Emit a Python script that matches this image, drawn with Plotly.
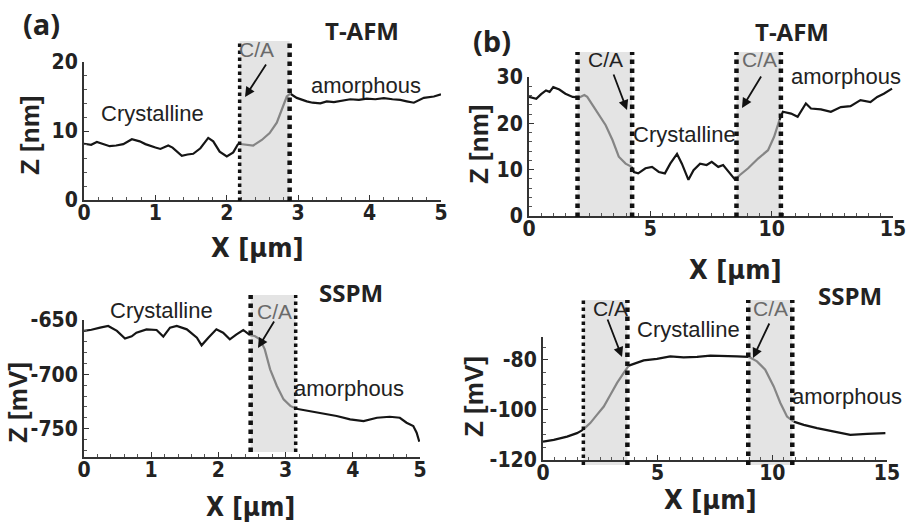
import plotly.graph_objects as go

W, H = 907, 524

# ---------------- data ----------------
a_top_x = [0, 0.1, 0.18, 0.27, 0.36, 0.45, 0.55, 0.67, 0.78, 0.86, 0.93, 1.0, 1.07, 1.18, 1.24,
           1.3, 1.37, 1.45, 1.53, 1.63, 1.74, 1.81, 1.9, 2.0, 2.09, 2.16, 2.26, 2.37, 2.49, 2.6,
           2.7, 2.77, 2.84, 2.89, 2.98, 3.12, 3.2, 3.31, 3.4, 3.5, 3.62, 3.73, 3.85, 3.96, 4.08,
           4.2, 4.32, 4.43, 4.52, 4.62, 4.76, 4.84, 4.9, 5.0]
a_top_z = [8.15, 8.0, 8.4, 8.1, 7.8, 7.9, 8.1, 8.8, 8.5, 8.1, 7.8, 7.6, 7.4, 7.9, 7.6,
           7.0, 6.4, 6.6, 6.7, 7.5, 9.0, 8.5, 7.0, 6.3, 6.9, 8.15, 8.0, 7.9, 8.7, 9.7,
           11.2, 13.1, 15.0, 15.4, 14.8, 14.3, 14.1, 14.0, 14.3, 14.2, 14.4, 14.6, 14.5, 14.7, 14.6,
           14.75, 14.6, 14.5, 14.3, 14.1, 14.8, 14.9, 15.0, 15.3]

b_top_x = [0, 0.3, 0.5, 0.7, 0.85, 1.0, 1.25, 1.5, 1.8, 2.07, 2.28, 2.4, 2.75, 3.16, 3.44, 3.7,
           3.98, 4.23, 4.32, 4.5, 4.8, 5.07, 5.35, 5.6, 5.82, 6.1, 6.3, 6.57, 6.78, 7.05, 7.32,
           7.53, 7.8, 8.0, 8.28, 8.5, 8.68, 9.03, 9.44, 9.85, 10.1, 10.32, 10.46, 10.8, 11.07,
           11.41, 11.62, 12.03, 12.44, 12.85, 13.25, 13.66, 14.07, 14.35, 14.62, 14.96]
b_top_z = [25.7, 25.3, 26.3, 27.1, 26.8, 27.8, 27.3, 26.4, 25.7, 25.6, 26.1, 25.7, 22.8, 19.6,
           16.4, 12.8, 11.3, 10.6, 9.5, 9.2, 10.3, 10.6, 9.5, 9.2, 11.3, 13.4, 11.3, 7.8, 9.9,
           11.3, 11.0, 11.7, 10.6, 11.0, 9.2, 7.8, 8.8, 10.3, 12.4, 14.2, 17.1, 20.7, 22.5, 22.1,
           21.4, 24.3, 23.2, 23.0, 22.5, 23.5, 23.7, 25.0, 24.6, 25.7, 26.4, 27.5]

a_bot_x = [0, 0.11, 0.24, 0.36, 0.49, 0.61, 0.71, 0.78, 0.93, 1.08, 1.18, 1.28, 1.38, 1.53, 1.68,
           1.75, 1.85, 1.97, 2.07, 2.17, 2.27, 2.37, 2.47, 2.54, 2.62, 2.69, 2.77, 2.87, 2.97,
           3.07, 3.16, 3.36, 3.56, 3.76, 3.96, 4.16, 4.36, 4.55, 4.7, 4.8, 4.9, 4.95, 4.99]
a_bot_z = [-660, -659, -657, -655.5, -660, -667, -665, -661.7, -658.6, -659.2, -665.3, -657,
           -655.5, -658.6, -666.3, -673.3, -666.3, -658.6, -661.7, -667.8, -663.2, -659.2, -664,
           -664.7, -667.8, -677, -695.4, -710.7, -723, -729, -731.6, -733.7, -735.9, -738.3,
           -741.4, -743, -739.9, -739, -739.9, -744.5, -747.5, -753.7, -762]

b_bot_x = [0, 0.47, 1.05, 1.48, 1.74, 2.06, 2.35, 2.65, 2.94, 3.23, 3.52, 3.74, 4.1, 4.39, 4.97,
           5.55, 6.13, 6.72, 7.3, 7.88, 8.46, 8.97, 9.33, 9.69, 10.06, 10.35, 10.64, 10.93,
           11.37, 11.95, 12.67, 13.4, 14.13, 14.93]
b_bot_z = [-112.7, -112, -110.7, -109.3, -108, -105.3, -102, -98.7, -94, -89.3, -85.3, -82.4,
           -81.3, -80.3, -79.7, -78.7, -79.1, -78.9, -78.4, -78.4, -78.7, -78.9, -80.7, -84,
           -90.7, -97.3, -102.7, -104.7, -106, -107.3, -108.7, -110, -109.6, -109.3]

# C/A transition regions (data units, x)
a_top_regions = [[2.18, 2.88]]
b_top_regions = [[2.0, 4.25], [8.55, 10.38]]
a_bot_regions = [[2.48, 3.15]]
b_bot_regions = [[1.76, 3.68], [8.95, 10.87]]

# axis ticks
a_top_xticks = [0, 1, 2, 3, 4, 5]
a_top_yticks = [0, 10, 20]
b_top_xticks = [0, 5, 10, 15]
b_top_yticks = [0, 10, 20, 30]
a_bot_xticks = [0, 1, 2, 3, 4, 5]
a_bot_yticks = [-650, -700, -750]
b_bot_xticks = [0, 5, 10, 15]
b_bot_yticks = [-80, -100, -120]

# ---------------- helpers ----------------
def px(x):
    return x / W

def py(y):
    return 1 - y / H

BLACK = "#151515"
GRAY = "#858585"

fig = go.Figure()


def add_profile(xs, zs, regions, xa, ya):
    def inside(v):
        return any(r[0] <= v <= r[1] for r in regions)
    segs = {BLACK: ([], []), GRAY: ([], [])}
    cur_col = None
    for i in range(len(xs) - 1):
        mid = 0.5 * (xs[i] + xs[i + 1])
        col = GRAY if inside(mid) else BLACK
        sx, sy = segs[col]
        if col != cur_col:
            if sx:
                sx.append(None)
                sy.append(None)
            sx.extend([xs[i], xs[i + 1]])
            sy.extend([zs[i], zs[i + 1]])
        else:
            sx.append(xs[i + 1])
            sy.append(zs[i + 1])
        cur_col = col
    for col, (sx, sy) in segs.items():
        if sx:
            fig.add_trace(go.Scatter(x=sx, y=sy, mode="lines", xaxis=xa, yaxis=ya,
                                     line=dict(color=col, width=2.2), showlegend=False,
                                     hoverinfo="skip", cliponaxis=False))


add_profile(a_top_x, a_top_z, a_top_regions, "x", "y")
add_profile(b_top_x, b_top_z, b_top_regions, "x2", "y2")
add_profile(a_bot_x, a_bot_z, a_bot_regions, "x3", "y3")
add_profile(b_bot_x, b_bot_z, b_bot_regions, "x4", "y4")

# ---------------- shaded regions & dotted boundaries ----------------
shapes = []


def add_regions(regions, xref, ytop, ybot, widths):
    k = 0
    for r in regions:
        shapes.append(dict(type="rect", xref=xref, yref="paper", x0=r[0], x1=r[1],
                           y0=py(ybot), y1=py(ytop), fillcolor="#e4e4e4",
                           line=dict(width=0), layer="below"))
        for v in r:
            shapes.append(dict(type="line", xref=xref, yref="paper", x0=v, x1=v,
                               y0=py(ybot), y1=py(ytop),
                               line=dict(color="#111111", width=widths[k], dash="dot")))
            k += 1


add_regions(a_top_regions, "x", 41, 201, [3.5, 4.5])
add_regions(b_top_regions, "x2", 52, 217, [4.5, 4.5, 4.5, 4.5])
add_regions(a_bot_regions, "x3", 295, 452, [4.5, 3.5])
add_regions(b_bot_regions, "x4", 300, 465, [3.5, 4.5, 4.5, 4.5])

# ---------------- text ----------------
ann = []
COND = "DejaVu Sans Condensed, Liberation Sans Narrow, Arial Narrow, Liberation Sans, sans-serif"


def text(t, x, y, size, color="#222222", family="Liberation Sans", weight="normal", angle=0):
    ann.append(dict(text=t, x=px(x), y=py(y), xref="paper", yref="paper", showarrow=False,
                    xanchor="center", yanchor="middle", textangle=angle,
                    font=dict(size=size, color=color, family=family, weight=weight)))


def arrow(tail, head):
    ann.append(dict(text="", x=px(head[0]), y=py(head[1]), xref="paper", yref="paper",
                    ax=tail[0] - head[0], ay=tail[1] - head[1], axref="pixel", ayref="pixel",
                    showarrow=True, arrowhead=2, arrowsize=1.1, arrowwidth=1.8,
                    arrowcolor="#111111"))


text("(a)", 41, 24, 29, "#222222", "Open Sans", "bold")
text("(b)", 492, 40, 29, "#222222", "Open Sans", "bold")
text("T-AFM", 362, 30, 24, "#222222", "Open Sans", "bold")
text("T-AFM", 792, 31, 24, "#222222", "Open Sans", "bold")
text("SSPM", 351, 292, 24, "#222222", "Open Sans", "bold")
text("SSPM", 850, 295, 24, "#222222", "Open Sans", "bold")

text("Crystalline", 152, 113, 22)
text("amorphous", 366, 85, 22)
text("Crystalline", 684, 134, 22)
text("amorphous", 846, 76, 22)
text("Crystalline", 161, 310, 22)
text("amorphous", 349, 388, 22)
text("Crystalline", 688, 329, 22)
text("amorphous", 847, 396, 22)

text("C/A", 256, 49, 21, "#6a6a6a")
arrow((267, 63), (245, 97))
text("C/A", 605, 60, 21, "#222222")
arrow((613, 73), (627, 110))
text("C/A", 759, 60, 21, "#6a6a6a")
arrow((762, 75), (742, 108))
text("C/A", 274, 311, 21, "#6a6a6a")
arrow((275, 320), (258, 348))
text("C/A", 610, 308, 21, "#222222")
arrow((607, 318), (622, 357))
text("C/A", 770, 308, 21, "#6a6a6a")
arrow((770, 322), (753, 358))

# axis titles
text("X [μm]", 257, 247, 27, "#222222", COND, "bold")
text("X [μm]", 735, 269, 27, "#222222", COND, "bold")
text("X [μm]", 250, 507, 26, "#222222", COND, "bold")
text("X [μm]", 710, 499, 27, "#222222", COND, "bold")
text("Z [nm]", 30, 136, 26, "#222222", "Liberation Sans", "bold", -90)
text("Z [nm]", 479, 145, 26, "#222222", "Liberation Sans", "bold", -90)
text("Z [mV]", 18, 403, 26, "#222222", "Liberation Sans", "bold", -90)
text("Z [mV]", 474, 397, 26, "#222222", "Liberation Sans", "bold", -90)

# ---------------- axes ----------------
tickfont = dict(family=COND, size=21, color="#222222", weight="bold")


def axis(dom, rng, ticks, minor, anchor, standoff):
    return dict(domain=dom, range=rng, tickvals=ticks, ticktext=[str(t) for t in ticks],
                ticks="inside", ticklen=5, automargin=False, ticklabelstandoff=standoff,
                ticklabeloverflow="allow",
                tickwidth=1.3, tickcolor="#333", showline=True, linecolor="#333",
                linewidth=1.8, showgrid=False, zeroline=False, anchor=anchor,
                tickfont=tickfont, fixedrange=True,
                minor=dict(dtick=minor, ticks="inside", ticklen=3, tickcolor="#555",
                           tickwidth=1, showgrid=False))


fig.update_layout(
    width=W, height=H, margin=dict(l=0, r=0, t=0, b=0, autoexpand=False),
    paper_bgcolor="white", plot_bgcolor="rgba(0,0,0,0)",
    xaxis=axis([px(84), px(441)], [0, 5], a_top_xticks, 0.2, "y", -7),
    yaxis=axis([py(200), py(62)], [0, 20], a_top_yticks, 2, "x", 0),
    xaxis2=axis([px(529), px(893)], [0, 15], b_top_xticks, 0.5, "y2", -7),
    yaxis2=axis([py(216), py(77)], [0, 30], b_top_yticks, 2, "x2", 0),
    xaxis3=axis([px(84), px(420)], [0, 5], a_bot_xticks, 0.2, "y3", -7),
    yaxis3=axis([py(457), py(320)], [-776, -650], a_bot_yticks, 10, "x3", 0),
    xaxis4=axis([px(543), px(887)], [0, 15], b_bot_xticks, 0.5, "y4", -7),
    yaxis4=axis([py(460), py(337)], [-120, -71], b_bot_yticks, 5, "x4", 0),
    shapes=shapes, annotations=ann,
)

fig.write_html("out.html", config={"displayModeBar": False},
               post_script="document.body.style.margin='0';document.body.style.padding='0';"
                           "document.body.style.overflow='hidden';")
